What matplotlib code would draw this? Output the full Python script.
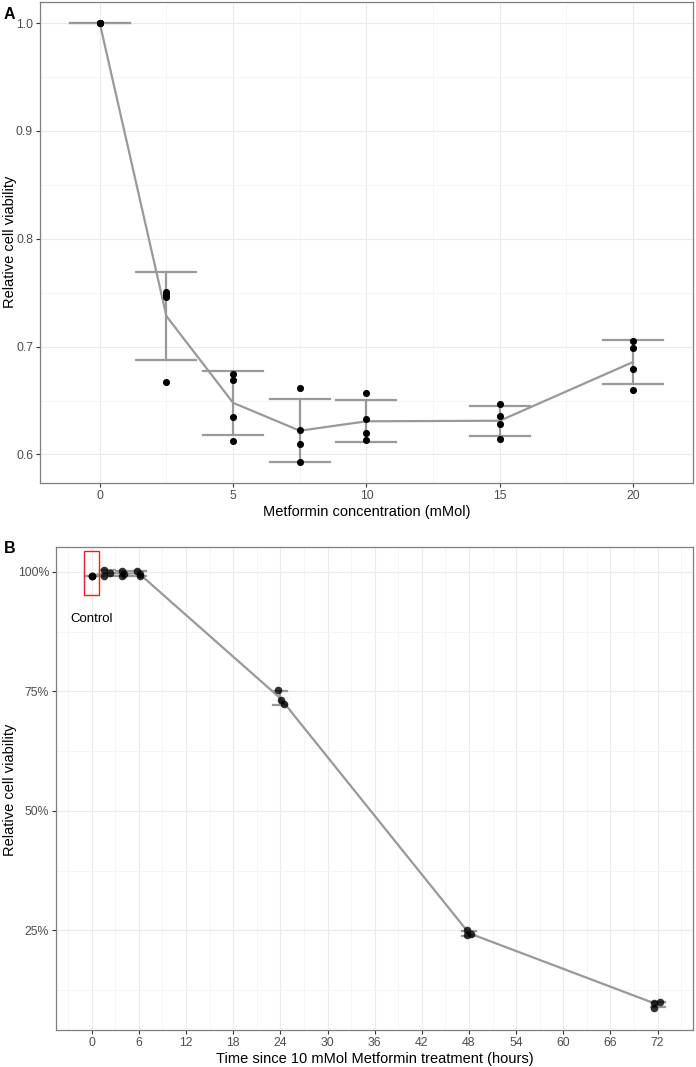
import numpy as np
import matplotlib.pyplot as plt
from matplotlib.patches import Rectangle
from matplotlib.ticker import FuncFormatter, MultipleLocator

plt.rcParams['font.family'] = ['Liberation Sans', 'DejaVu Sans']

# panel A: dose response (4 replicates per concentration)
conc = [0, 2.5, 5, 7.5, 10, 15, 20]
viab_a = [
    [1.0, 1.0, 1.0, 1.0],
    [0.751, 0.749, 0.746, 0.667],
    [0.675, 0.669, 0.635, 0.6125],
    [0.662, 0.623, 0.610, 0.593],
    [0.657, 0.633, 0.620, 0.613],
    [0.647, 0.636, 0.628, 0.614],
    [0.705, 0.699, 0.679, 0.660],
]

time_h = [0, 2, 4, 6, 24, 48, 72]
viab_b = [
    [99.2, 99.2, 99.2],
    [100.4, 99.2, 99.8],
    [100.2, 99.1, 99.6],
    [100.2, 99.2, 99.6],
    [75.2, 73.1, 72.3],
    [25.0, 24.0, 24.2],
    [9.7, 9.9, 8.8],
]
jitter_b = [
    [0, 0, 0],
    [-0.4, -0.5, 0.3],
    [-0.1, -0.1, 0.1],
    [-0.2, 0.1, 0.2],
    [-0.3, 0.1, 0.5],
    [-0.2, -0.3, 0.2],
    [-0.4, 0.3, -0.4],
]

LINE = '#999999'
GRID_MAJ = '#ebebeb'
GRID_MIN = '#f4f4f4'


def style_axes(ax):
    for s in ax.spines.values():
        s.set_color('#7f7f7f')
        s.set_linewidth(0.9)
    ax.set_axisbelow(True)
    ax.grid(which='major', color=GRID_MAJ, lw=0.8)
    ax.grid(which='minor', color=GRID_MIN, lw=0.6)
    ax.tick_params(which='major', length=3, width=0.8, color='#333333',
                   labelsize=8.8, labelcolor='#4d4d4d', pad=2)
    ax.tick_params(which='minor', length=0)


fig = plt.figure(figsize=(6.96, 10.67), dpi=100)

# ---- panel A
ax = fig.add_axes([0.0575, 0.5473, 0.938, 0.4508])
style_axes(ax)
mean_a = np.array([np.mean(v) for v in viab_a])
sd_a = np.array([np.std(v, ddof=1) for v in viab_a])
ax.plot(conc, mean_a, color=LINE, lw=1.6, zorder=2)
for c, m, s in zip(conc, mean_a, sd_a):
    ax.plot([c, c], [m - s, m + s], color=LINE, lw=1.6, zorder=2)
    for yy in (m - s, m + s):
        ax.plot([c - 1.125, c + 1.125], [yy, yy], color=LINE, lw=1.6, zorder=2)
for c, v in zip(conc, viab_a):
    ax.scatter([c] * len(v), v, s=26, color='black', zorder=3, linewidths=0)
ax.set_xlim(-2.24, 22.24)
ax.set_ylim(0.5735, 1.0195)
ax.xaxis.set_major_locator(MultipleLocator(5))
ax.xaxis.set_minor_locator(MultipleLocator(2.5))
ax.yaxis.set_major_locator(MultipleLocator(0.1))
ax.yaxis.set_minor_locator(MultipleLocator(0.05))
ax.yaxis.set_major_formatter(FuncFormatter(lambda v, p: f'{v:.1f}'))
ax.set_xlabel('Metformin concentration (mMol)', fontsize=10.5, labelpad=2)
fig.text(10 / 696, 1 - 242 / 1067, 'Relative cell viability', fontsize=10.5,
         rotation=90, ha='center', va='center')
fig.text(0.005, 0.9934, 'A', fontsize=11.5, fontweight='bold', va='top')

# ---- panel B
bx = fig.add_axes([0.0805, 0.0347, 0.9152, 0.4527])
style_axes(bx)
mean_b = np.array([np.mean(v) for v in viab_b])
sd_b = np.array([np.std(v, ddof=1) for v in viab_b])
bx.plot(time_h, mean_b, color=LINE, lw=1.6, zorder=2)
for t, m, s in zip(time_h, mean_b, sd_b):
    bx.plot([t, t], [m - s, m + s], color=LINE, lw=1.6, zorder=2)
    for yy in (m - s, m + s):
        bx.plot([t - 0.9, t + 0.9], [yy, yy], color=LINE, lw=1.6, zorder=2)
for t, v, j in zip(time_h, viab_b, jitter_b):
    bx.scatter(np.array(j) + t, v, s=30, color='black', alpha=0.8,
               zorder=3, linewidths=0)
bx.add_patch(Rectangle((-0.97, 95.1), 1.94, 9.2, fill=False,
                       edgecolor='#e8202a', lw=1.0, zorder=4))
bx.text(0, 90.2, 'Control', fontsize=9.5, ha='center', va='center')
bx.set_xlim(-4.54, 76.5)
bx.set_ylim(4.15, 105.2)
bx.xaxis.set_major_locator(MultipleLocator(6))
bx.xaxis.set_minor_locator(MultipleLocator(3))
bx.yaxis.set_major_locator(MultipleLocator(25))
bx.yaxis.set_minor_locator(MultipleLocator(12.5))
bx.yaxis.set_major_formatter(FuncFormatter(lambda v, p: f'{v:.0f}%'))
bx.set_xlabel('Time since 10 mMol Metformin treatment (hours)', fontsize=10.5, labelpad=2)
fig.text(10 / 696, 1 - 790 / 1067, 'Relative cell viability', fontsize=10.5,
         rotation=90, ha='center', va='center')
fig.text(0.005, 0.493, 'B', fontsize=11.5, fontweight='bold', va='top')

fig.savefig('out.png', dpi=100)
